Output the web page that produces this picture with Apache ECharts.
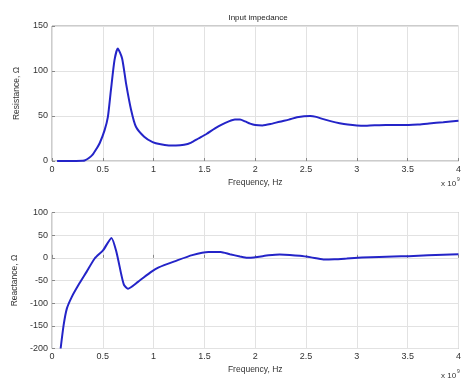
<!DOCTYPE html>
<html>
<head>
<meta charset="utf-8">
<script src="https://cdn.jsdelivr.net/npm/echarts@6/dist/echarts.min.js"></script>
<style>
  html, body { margin: 0; padding: 0; background: #fff; }
  #chart { width: 464px; height: 383px; }
</style>
</head>
<body>
<div id="chart"></div>
<script>
// frequency in units of 1e9 Hz
const resFreq = [0.05, 0.2, 0.3, 0.32, 0.36, 0.40, 0.44, 0.47, 0.517, 0.55, 0.58, 0.615, 0.647, 0.69, 0.729, 0.778, 0.826, 0.907, 0.99, 1.07, 1.15, 1.22, 1.3, 1.37, 1.44, 1.52, 1.6, 1.67, 1.74, 1.8, 1.85, 1.9, 1.95, 2.0, 2.07, 2.15, 2.24, 2.33, 2.41, 2.48, 2.54, 2.6, 2.67, 2.75, 2.83, 2.91, 3.0, 3.1, 3.22, 3.35, 3.51, 3.6, 3.71, 3.85, 4.0];
const resistance = [0, 0, 0.3, 0.5, 3, 7, 14, 20, 34, 49, 79, 112, 125, 114, 86, 57, 38, 27, 21, 18.5, 17.3, 17.2, 18, 20.5, 25, 30, 36, 40.5, 44, 46, 46, 44, 41.5, 40, 39.5, 41, 43.7, 46, 48.5, 49.8, 50, 49, 46.5, 44, 42, 40.5, 39.5, 39.3, 39.8, 40, 40, 40.5, 41.8, 43, 44.8];

const reaFreq = [0.085, 0.114, 0.146, 0.195, 0.26, 0.34, 0.42, 0.504, 0.585, 0.634, 0.683, 0.709, 0.748, 0.846, 0.976, 1.05, 1.22, 1.38, 1.54, 1.66, 1.75, 1.85, 1.92, 2.02, 2.13, 2.24, 2.34, 2.44, 2.55, 2.67, 2.78, 2.9, 3.05, 3.22, 3.36, 3.51, 3.7, 3.85, 4.0];
const reactance = [-200, -149, -112, -86, -60, -31, -1.5, 17, 44, 13, -38, -60, -68, -53, -31, -21, -6.6, 6, 13, 13, 8, 3, 0, 2, 5.5, 7.5, 6.5, 4.5, 1, -3.5, -3, -1.5, 0.5, 2, 3, 3.7, 5.5, 6.8, 8];

const xTicks = [0, 0.5, 1, 1.5, 2, 2.5, 3, 3.5, 4];

const FONT = 'Liberation Sans';
const lineColor = '#2424c8';

function pairs(xs, ys) {
  return xs.map((x, i) => [x, ys[i]]);
}

function xAxisCfg(gridIndex) {
  return {
    type: 'value',
    gridIndex: gridIndex,
    min: 0,
    max: 4,
    interval: 0.5,
    name: 'Frequency, Hz',
    nameLocation: 'middle',
    nameGap: 17,
    nameTextStyle: { fontFamily: FONT, fontSize: 8.5, color: '#333' },
    axisLine: { show: false },
    axisTick: { inside: true, length: 3, lineStyle: { color: '#888' } },
    axisLabel: {
      fontFamily: FONT, fontSize: 9, color: '#333', margin: 4,
      formatter: v => xTicks.indexOf(v) >= 0 ? String(v) : ''
    },
    splitLine: { show: true, lineStyle: { color: '#e2e2e2', type: 'solid' } }
  };
}

function yAxisCfg(gridIndex, name, min, max, interval) {
  return {
    type: 'value',
    gridIndex: gridIndex,
    min: min,
    max: max,
    interval: interval,
    name: name,
    nameLocation: 'middle',
    nameGap: 31,
    nameTextStyle: { fontFamily: FONT, fontSize: 8.5, color: '#333' },
    axisLine: { show: false },
    axisTick: { inside: true, length: 3, lineStyle: { color: '#888' } },
    axisLabel: { fontFamily: FONT, fontSize: 9, color: '#333', margin: 4 },
    splitLine: { show: true, lineStyle: { color: '#e2e2e2', type: 'solid' } }
  };
}

const chart = echarts.init(document.getElementById('chart'), null, { renderer: 'canvas' });

const option = {
  backgroundColor: '#fff',
  animation: false,
  title: {
    text: 'Input impedance',
    left: 253,
    top: 9,
    textAlign: 'center',
    textStyle: { fontFamily: FONT, fontSize: 8, fontWeight: 'normal', color: '#222' }
  },
  grid: [
    { left: 52, right: 1, top: 26, height: 135, show: true, borderColor: '#999', borderWidth: 1 },
    { left: 52, right: 1, top: 212.5, height: 136, show: true, borderColor: '#999', borderWidth: 1 }
  ],
  xAxis: [xAxisCfg(0), xAxisCfg(1)],
  yAxis: [
    yAxisCfg(0, 'Resistance, Ω', 0, 150, 50),
    yAxisCfg(1, 'Reactance, Ω', -200, 100, 50)
  ],
  graphic: [
    { type: 'text', left: 441, top: 180, style: { text: 'x 10', fontFamily: FONT, fontSize: 8, fill: '#333' } },
    { type: 'text', left: 457, top: 177, style: { text: '9', fontFamily: FONT, fontSize: 5, fill: '#333' } },
    { type: 'text', left: 441, top: 372, style: { text: 'x 10', fontFamily: FONT, fontSize: 8, fill: '#333' } },
    { type: 'text', left: 457, top: 369, style: { text: '9', fontFamily: FONT, fontSize: 5, fill: '#333' } }
  ],
  series: [
    {
      type: 'line',
      xAxisIndex: 0,
      yAxisIndex: 0,
      data: pairs(resFreq, resistance),
      showSymbol: false,
      smooth: 0.2,
      lineStyle: { color: lineColor, width: 2 }
    },
    {
      type: 'line',
      xAxisIndex: 1,
      yAxisIndex: 1,
      data: pairs(reaFreq, reactance),
      showSymbol: false,
      smooth: 0.2,
      lineStyle: { color: lineColor, width: 2 }
    }
  ]
};

chart.setOption(option);
</script>
</body>
</html>
